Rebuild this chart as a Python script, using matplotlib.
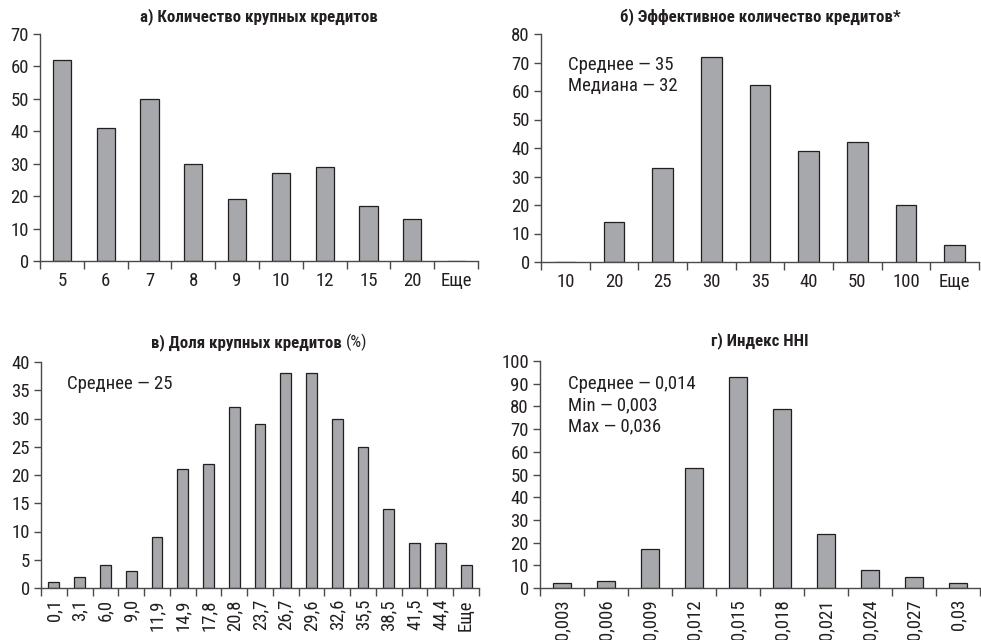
import matplotlib.pyplot as plt
import numpy as np

plt.rcParams['font.family'] = ['Roboto Condensed', 'DejaVu Sans']

# а) количество крупных кредитов
cat_a = ['5', '6', '7', '8', '9', '10', '12', '15', '20', 'Еще']
val_a = [62, 41, 50, 30, 19, 27, 29, 17, 13, 0]

# б) эффективное количество кредитов
cat_b = ['10', '20', '25', '30', '35', '40', '50', '100', 'Еще']
val_b = [0, 14, 33, 72, 62, 39, 42, 20, 6]

# в) доля крупных кредитов
cat_c = ['0,1', '3,1', '6,0', '9,0', '11,9', '14,9', '17,8', '20,8', '23,7',
         '26,7', '29,6', '32,6', '35,5', '38,5', '41,5', '44,4', 'Еще']
val_c = [1, 2, 4, 3, 9, 21, 22, 32, 29, 38, 38, 30, 25, 14, 8, 8, 4]

# г) индекс HHI
cat_d = ['0,003', '0,006', '0,009', '0,012', '0,015', '0,018', '0,021',
         '0,024', '0,027', '0,03']
val_d = [2, 3, 17, 53, 93, 79, 24, 8, 5, 2]

BAR = '#a7a8ac'
INK = '#231f20'
AXC = '#4a4a4a'
W, H = 981, 640
FS = 13.5
TFS = 12.2


def panel(rect, cats, vals, ymax, ystep, rot=0, bw=0.42):
    l, t, r, b = rect
    ax = fig.add_axes([l / W, 1 - b / H, (r - l) / W, (b - t) / H])
    x = np.arange(len(cats))
    ax.bar(x, vals, width=bw, color=BAR, edgecolor=INK, linewidth=0.9)
    ax.set_xlim(-0.5, len(cats) - 0.5)
    ax.set_ylim(0, ymax)
    ax.set_yticks(np.arange(0, ymax + 1, ystep))
    ax.set_xticks(x)
    ax.set_xticklabels(cats, rotation=rot)
    ax.set_xticks(np.arange(-0.5, len(cats)), minor=True)
    ax.tick_params(axis='x', which='major', length=0, pad=8 if rot == 0 else 8,
                   labelsize=FS, labelcolor=INK)
    ax.tick_params(axis='x', which='minor', length=6, width=1, color=AXC)
    ax.tick_params(axis='y', length=5, width=1, color=AXC, labelsize=FS,
                   labelcolor=INK, pad=3)
    for s in ('top', 'right'):
        ax.spines[s].set_visible(False)
    for s in ('left', 'bottom'):
        ax.spines[s].set_color(AXC)
        ax.spines[s].set_linewidth(1)
    return ax


fig = plt.figure(figsize=(W / 100, H / 100), dpi=100)

ax = panel((40, 34, 478, 261), cat_a, val_a, 70, 10)
ax.text(0.5, 1.075, 'а) Количество крупных кредитов', transform=ax.transAxes,
        ha='center', va='center', fontsize=TFS, fontweight='bold', color=INK)

ax = panel((541, 34, 979, 262), cat_b, val_b, 80, 10)
ax.text(0.5, 1.075, 'б) Эффективное количество кредитов*', transform=ax.transAxes,
        ha='center', va='center', fontsize=TFS, fontweight='bold', color=INK)
ax.text(0.062, 0.864, 'Среднее — 35', transform=ax.transAxes, va='center',
        fontsize=FS, color=INK)
ax.text(0.062, 0.772, 'Медиана — 32', transform=ax.transAxes, va='center',
        fontsize=FS, color=INK)

ax = panel((41, 362, 479, 588), cat_c, val_c, 40, 5, rot=90)
ax.text(0.687, 1.088, 'в) Доля крупных кредитов', transform=ax.transAxes,
        ha='right', va='center', fontsize=TFS, fontweight='bold', color=INK)
ax.text(0.697, 1.088, '(%)', transform=ax.transAxes,
        ha='left', va='center', fontsize=TFS, color=INK)
ax.text(0.059, 0.903, 'Среднее — 25', transform=ax.transAxes, va='center',
        fontsize=FS, color=INK)

ax = panel((540, 361, 980, 588), cat_d, val_d, 100, 10, rot=90)
ax.text(0.5, 1.09, 'г) Индекс HHI', transform=ax.transAxes,
        ha='center', va='center', fontsize=TFS, fontweight='bold', color=INK)
for yy, s in zip([0.899, 0.806, 0.714],
                 ['Среднее — 0,014', 'Min — 0,003', 'Max — 0,036']):
    ax.text(0.064, yy, s, transform=ax.transAxes, va='center',
            fontsize=FS, color=INK)

fig.savefig('out.png', dpi=100)
